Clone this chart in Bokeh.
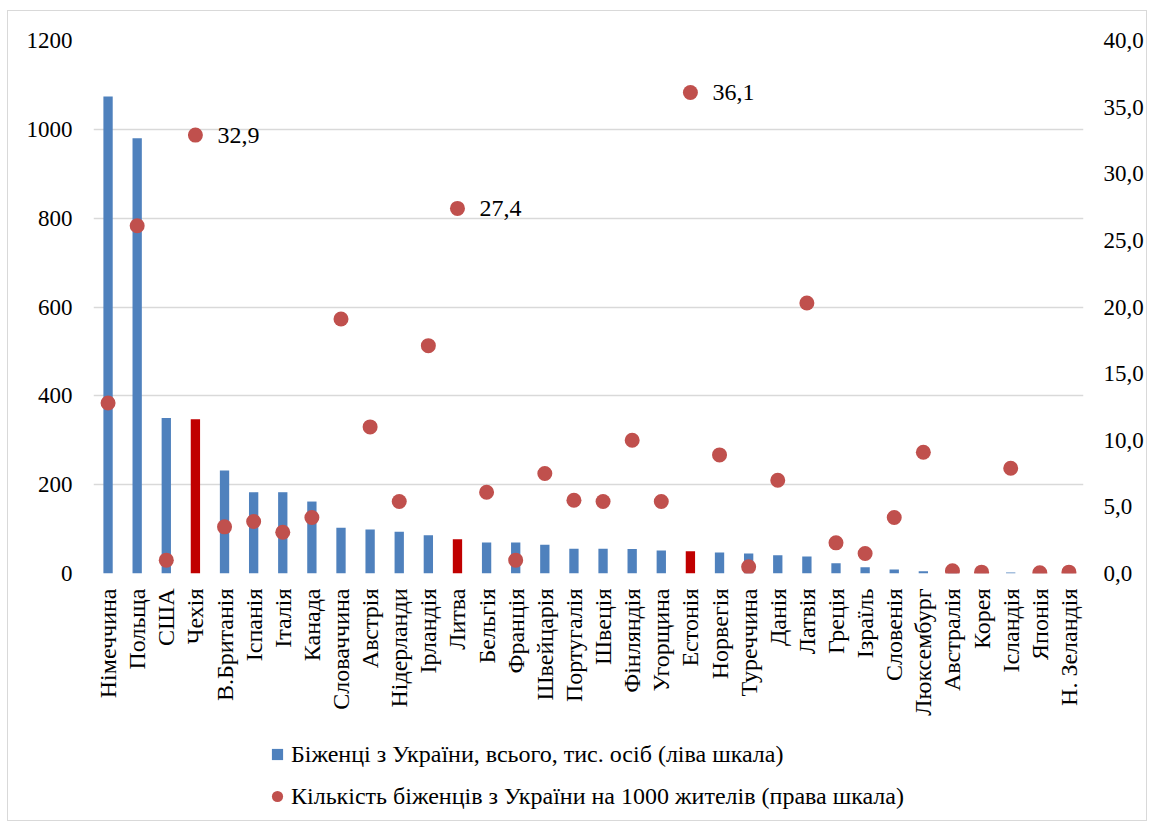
from bokeh.plotting import figure
from bokeh.layouts import column
from bokeh.models import (ColumnDataSource, Range1d, LinearAxis, FixedTicker,
                          Legend, LegendItem, FactorRange)
from bokeh.core.properties import value
from bokeh.embed import file_html
from bokeh.resources import INLINE

categories = ["Німеччина", "Польща", "США", "Чехія", "В.Британія", "Іспанія", "Італія",
              "Канада", "Словаччина", "Австрія", "Нідерланди", "Ірландія", "Литва",
              "Бельгія", "Франція", "Швейцарія", "Португалія", "Швеція", "Фінляндія",
              "Угорщина", "Естонія", "Норвегія", "Туреччина", "Данія", "Латвія", "Греція",
              "Ізраїль", "Словенія", "Люксембург", "Австралія", "Корея", "Ісландія",
              "Японія", "Н. Зеландія"]
refugees_thousands = [1074, 980, 350, 347, 232, 183, 183, 162, 103, 99, 94, 86, 77,
                      70, 70, 65, 56, 56, 55, 52, 50, 47, 45, 41, 38, 23,
                      14, 9, 5, 1, 0.5, 2, 0.3, 0.3]
per_1000_residents = [12.8, 26.1, 1.0, 32.9, 3.5, 3.9, 3.1, 4.2, 19.1, 11.0, 5.4, 17.1, 27.4,
                      6.1, 1.0, 7.5, 5.5, 5.4, 10.0, 5.4, 36.1, 8.9, 0.5, 7.0, 20.3, 2.3,
                      1.5, 4.2, 9.1, 0.2, 0.1, 7.9, 0.05, 0.1]
highlighted = ["Чехія", "Литва", "Естонія"]
left_ticks = [0, 200, 400, 600, 800, 1000, 1200]
right_ticks = [0, 5, 10, 15, 20, 25, 30, 35, 40]
legend_bars = "Біженці з України, всього, тис. осіб (ліва шкала)"
legend_dots = "Кількість біженців з України на 1000 жителів (права шкала)"

BLUE = "#4F81BD"
RED_BAR = "#C00000"
DOT = "#C0504D"
GRID = "#D9D9D9"
FONT = "Liberation Serif, Times New Roman, serif"
FS_TICK = "23px"
FS = "24px"

bar_colors = [RED_BAR if c in highlighted else BLUE for c in categories]
src = ColumnDataSource(dict(cat=categories, val=refugees_thousands,
                            per=per_1000_residents, color=bar_colors))
lab_idx = [i for i, c in enumerate(categories) if c in highlighted]
lab_src = ColumnDataSource(dict(
    cat=[categories[i] for i in lab_idx],
    per=[per_1000_residents[i] for i in lab_idx],
    txt=[f"{per_1000_residents[i]:.1f}".replace(".", ",") for i in lab_idx]))

W = 1138
p = figure(x_range=FactorRange(*categories), y_range=Range1d(0, 1200),
           width=W, height=712, output_backend="svg", toolbar_location=None,
           min_border_left=85, min_border_right=62, min_border_top=29,
           min_border_bottom=150)
p.outline_line_color = None
p.background_fill_color = "white"
p.border_fill_color = "white"
p.extra_y_ranges = {"right": Range1d(0, 40)}

p.xgrid.grid_line_color = None
p.ygrid.grid_line_color = GRID
p.ygrid.grid_line_width = 1.3

p.yaxis.ticker = FixedTicker(ticks=left_ticks)
p.yaxis.axis_line_color = None
p.yaxis.major_tick_line_color = None
p.yaxis.minor_tick_line_color = None
p.yaxis.major_label_text_font = FONT
p.yaxis.major_label_text_font_size = FS_TICK
p.yaxis.major_label_text_color = "black"
p.yaxis.major_label_standoff = 15

p.xaxis.axis_line_color = None
p.xaxis.major_tick_line_color = None
p.xaxis.minor_tick_line_color = None
p.xaxis.major_label_orientation = 3.14159265 / 2
p.xaxis.major_label_text_font = FONT
p.xaxis.major_label_text_font_size = FS
p.xaxis.major_label_text_color = "black"
p.xaxis.major_label_standoff = 9

ra = LinearAxis(y_range_name="right",
                ticker=FixedTicker(ticks=right_ticks),
                major_label_overrides={t: f"{t:.1f}".replace(".", ",") for t in right_ticks})
ra.axis_line_color = None
ra.major_tick_line_color = None
ra.minor_tick_line_color = None
ra.major_label_text_font = FONT
ra.major_label_text_font_size = FS_TICK
ra.major_label_text_color = "black"
ra.major_label_standoff = 14
p.add_layout(ra, "right")

p.vbar(x="cat", top="val", width=0.32, source=src, fill_color="color", line_color=None)
p.scatter(x="cat", y="per", y_range_name="right", source=src, size=15,
          marker="circle", fill_color=DOT, line_color=None)
p.text(x="cat", y="per", text="txt", y_range_name="right", source=lab_src,
       x_offset=22, text_align="left", text_baseline="middle",
       text_font=value(FONT), text_font_size=FS, text_color="black")

# legend panel below the chart
p2 = figure(x_range=Range1d(0, 1), y_range=Range1d(0, 1), width=W, height=97,
            output_backend="svg", toolbar_location=None,
            min_border_left=0, min_border_right=0, min_border_top=0, min_border_bottom=0)
p2.xaxis.visible = False
p2.yaxis.visible = False
p2.grid.visible = False
p2.outline_line_color = None
p2.background_fill_color = "white"
p2.border_fill_color = "white"
leg_sq = p2.scatter(x=[-5], y=[-5], marker="square", fill_color=BLUE, line_color=None)
leg_ci = p2.scatter(x=[-5], y=[-5], marker="circle", fill_color=DOT, line_color=None)
legend = Legend(items=[LegendItem(label=legend_bars, renderers=[leg_sq]),
                       LegendItem(label=legend_dots, renderers=[leg_ci])],
                location=(170, 7), orientation="vertical",
                glyph_width=28, glyph_height=34, label_standoff=0, spacing=8,
                padding=0, margin=0, border_line_color=None,
                background_fill_alpha=0,
                label_text_font=FONT, label_text_font_size=FS,
                label_text_color="black")
p2.add_layout(legend, "center")

layout = column(p, p2, spacing=0,
                styles={"border": "1px solid #D9D9D9", "margin-left": "7px",
                        "margin-top": "10px"})

open("out.html", "w").write(file_html(layout, INLINE))
